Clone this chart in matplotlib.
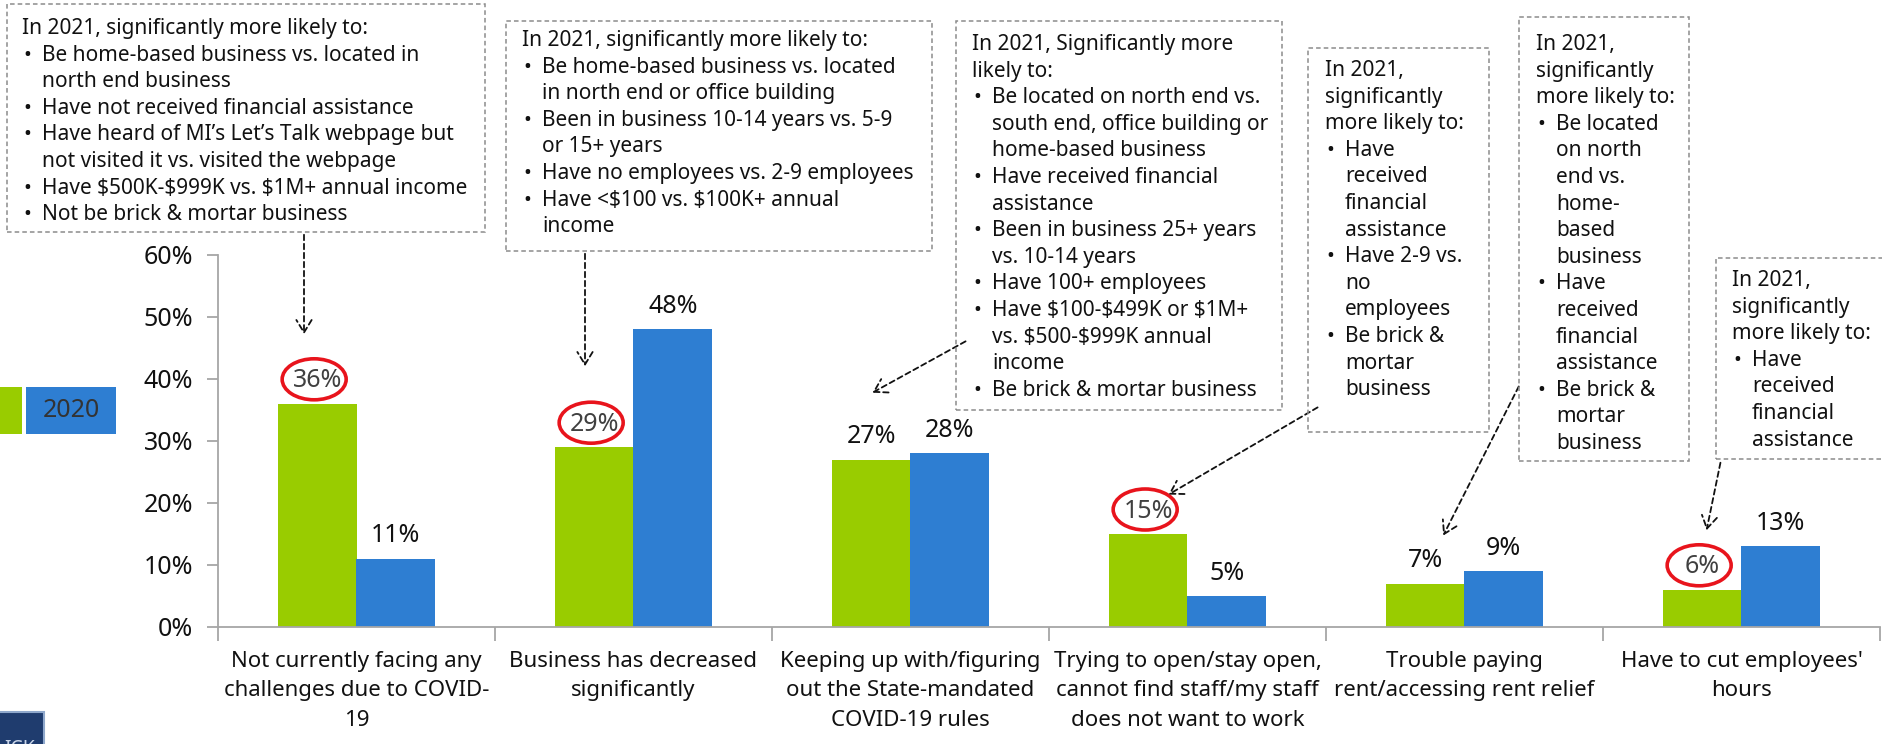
import numpy as np
import matplotlib.pyplot as plt
import matplotlib.patches as mpatches
import matplotlib.transforms as mtransforms

plt.rcParams['font.family'] = ['Noto Sans', 'DejaVu Sans']

# data
categories = ["Not currently facing any\nchallenges due to COVID-\n19",
              "Business has decreased\nsignificantly",
              "Keeping up with/figuring\nout the State-mandated\nCOVID-19 rules",
              "Trying to open/stay open,\ncannot find staff/my staff\ndoes not want to work",
              "Trouble paying\nrent/accessing rent relief",
              "Have to cut employees'\nhours"]
vals_2021 = [36, 29, 27, 15, 7, 6]
vals_2020 = [11, 48, 28, 5, 9, 13]
circled_2021 = [True, True, False, True, False, True]
series_names = ["2021", "2020"]
yticks = [0, 10, 20, 30, 40, 50, 60]

# annotation box contents: 'H' header line, 'B' bullet line, 'C' continuation
box1 = [("H", "In 2021, significantly more likely to:"),
        ("B", "Be home-based business vs. located in"),
        ("C", "north end business"),
        ("B", "Have not received financial assistance"),
        ("B", "Have heard of MI’s Let’s Talk webpage but"),
        ("C", "not visited it vs. visited the webpage"),
        ("B", "Have $500K-$999K vs. $1M+ annual income"),
        ("B", "Not be brick & mortar business")]
box2 = [("H", "In 2021, significantly more likely to:"),
        ("B", "Be home-based business vs. located"),
        ("C", "in north end or office building"),
        ("B", "Been in business 10-14 years vs. 5-9"),
        ("C", "or 15+ years"),
        ("B", "Have no employees vs. 2-9 employees"),
        ("B", "Have <$100 vs. $100K+ annual"),
        ("C", "income")]
box3 = [("H", "In 2021, Significantly more"),
        ("H", "likely to:"),
        ("B", "Be located on north end vs."),
        ("C", "south end, office building or"),
        ("C", "home-based business"),
        ("B", "Have received financial"),
        ("C", "assistance"),
        ("B", "Been in business 25+ years"),
        ("C", "vs. 10-14 years"),
        ("B", "Have 100+ employees"),
        ("B", "Have $100-$499K or $1M+"),
        ("C", "vs. $500-$999K annual"),
        ("C", "income"),
        ("B", "Be brick & mortar business")]
box4 = [("H", "In 2021,"), ("H", "significantly"), ("H", "more likely to:"),
        ("B", "Have"), ("C", "received"), ("C", "financial"), ("C", "assistance"),
        ("B", "Have 2-9 vs."), ("C", "no"), ("C", "employees"),
        ("B", "Be brick &"), ("C", "mortar"), ("C", "business")]
box5 = [("H", "In 2021,"), ("H", "significantly"), ("H", "more likely to:"),
        ("B", "Be located"), ("C", "on north"), ("C", "end vs."), ("C", "home-"),
        ("C", "based"), ("C", "business"),
        ("B", "Have"), ("C", "received"), ("C", "financial"), ("C", "assistance"),
        ("B", "Be brick &"), ("C", "mortar"), ("C", "business")]
box6 = [("H", "In 2021,"), ("H", "significantly"), ("H", "more likely to:"),
        ("B", "Have"), ("C", "received"), ("C", "financial"), ("C", "assistance")]

green = "#99cc00"
blue = "#2e7ed2"
W, H = 1883, 744

fig = plt.figure(figsize=(W / 100, H / 100), dpi=100)

def fp(x, y):
    # top-left pixel -> figure fraction
    return x / W, 1 - y / H

ax = fig.add_axes([218 / W, 1 - 627 / H, (1880 - 218) / W, (627 - 255) / H])

x = np.arange(len(categories))
bw = 0.284
ax.bar(x - bw / 2, vals_2021, bw, color=green, label=series_names[0])
ax.bar(x + bw / 2, vals_2020, bw, color=blue, label=series_names[1])

ax.set_xlim(-0.5, len(categories) - 0.5)
ax.set_ylim(0, 60)
ax.set_yticks(yticks, [f"{t}%" for t in yticks])
ax.set_xticks(x, categories)
for lab in ax.get_xticklabels():
    lab.set_linespacing(1.55)
ax.set_xticks(np.arange(len(categories) + 1) - 0.5, minor=True)
ax.tick_params(axis='x', which='major', length=0, pad=17, labelsize=16, labelcolor="#111111")
ax.tick_params(axis='x', which='minor', length=10, width=1.3, color="#a6a6a6")
ax.tick_params(axis='y', length=8, width=1.3, color="#a6a6a6", labelsize=18, pad=10,
               labelcolor="#111111")
for s in ['top', 'right']:
    ax.spines[s].set_visible(False)
for s in ['left', 'bottom']:
    ax.spines[s].set_color("#a6a6a6")
    ax.spines[s].set_linewidth(1.3)

# value labels
for i in range(len(categories)):
    for xi, v, col in [(x[i] - bw / 2, vals_2021[i], "#404040" if circled_2021[i] else "#111111"),
                       (x[i] + bw / 2, vals_2020[i], "#111111")]:
        ax.annotate(f"{v}%", (xi, v), xytext=(0, 16.5), textcoords='offset points',
                    ha='center', va='center', fontsize=18, color=col)
    if circled_2021[i]:
        tr = fig.dpi_scale_trans + mtransforms.ScaledTranslation(x[i] - bw / 2, vals_2021[i], ax.transData)
        ax.add_patch(mpatches.Ellipse((-0.03, 0.245), 0.64, 0.41, transform=tr, fill=False,
                                      edgecolor="#e8141c", linewidth=2.6, clip_on=False))

# dashed annotation boxes
def draw_box(x0, y0, x1, y1, tx, ty, lines, lh=26.6, indent=20):
    a, b = fp(x0, y1)
    c, d = fp(x1, y0)
    fig.patches.append(mpatches.Rectangle((a, b), c - a, d - b, transform=fig.transFigure,
                                          fill=False, edgecolor="#8c8c8c", linewidth=1.1,
                                          linestyle=(0, (3, 2))))
    for k, (kind, t) in enumerate(lines):
        yy = ty + k * lh
        if kind == "B":
            fig.text(*fp(tx + 1, yy), "•", fontsize=15, va='baseline', ha='left', color="#111111")
        xx = tx if kind == "H" else tx + indent
        fig.text(*fp(xx, yy), t, fontsize=15, va='baseline', ha='left',
                 color="#111111", parse_math=False)

def draw_arrow(x0, y0, x1, y1):
    fig.add_artist(mpatches.FancyArrowPatch(fp(x0, y0), fp(x1, y1), transform=fig.transFigure,
                                            arrowstyle='->,head_length=9,head_width=5.5',
                                            linestyle=(0, (3, 2)), linewidth=1.3, color="#111111"))

draw_box(7, 4, 485, 232, 22, 34, box1)
draw_box(506, 21, 932, 251, 522, 46, box2)
draw_box(956, 21, 1282, 410, 972, 50, box3)
draw_box(1308, 48, 1489, 432, 1325, 76, box4)
draw_box(1519, 17, 1689, 461, 1536, 50, box5)
draw_box(1716, 258, 1900, 459, 1732, 286, box6)

draw_arrow(304, 232, 304, 337)
draw_arrow(585, 251, 585, 369)
draw_arrow(968, 340, 870, 394)
draw_arrow(1320, 406, 1166, 496)
draw_arrow(1520, 384, 1442, 538)
draw_arrow(1721, 460, 1706, 533)

# legend (partly cut off at left edge)
for (l, r), col, name in [((-70, 22), green, series_names[0]), ((26, 116), blue, series_names[1])]:
    a, b = fp(l, 434)
    c, d = fp(r, 387)
    fig.patches.append(mpatches.Rectangle((a, b), c - a, d - b, transform=fig.transFigure,
                                          facecolor=col, edgecolor='none'))
    fig.text(*fp((l + r) / 2, 411), name, fontsize=18, color="#333333", ha='center', va='center')

# logo corner
a, b = fp(-5, 760)
c, d = fp(44, 712)
fig.patches.append(mpatches.Rectangle((a, b), c - a, d - b, transform=fig.transFigure,
                                      facecolor="#1f3c6e", edgecolor="#8fa8cc", linewidth=1.5))
fig.text(*fp(4, 754), "ICK", fontsize=14, color="#c8d4e8", ha='left', va='baseline')

fig.savefig("out.png", dpi=100)
